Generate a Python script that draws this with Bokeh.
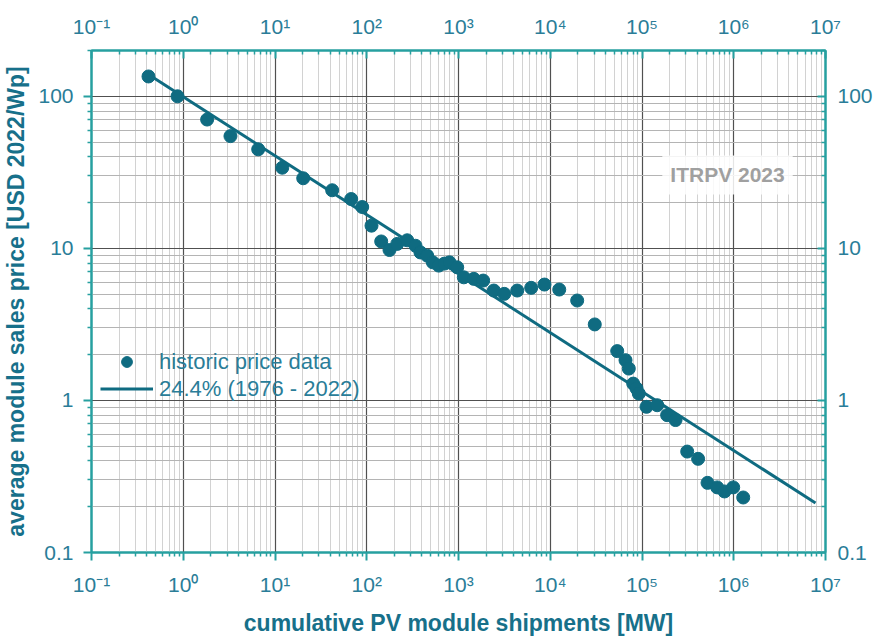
from bokeh.plotting import figure
from bokeh.models import (LogAxis, FixedTicker, Legend, LegendItem, Label, Range1d)
from bokeh.embed import file_html
from bokeh.resources import INLINE

# ---- data ----
shipments_mw = [0.418, 0.866, 1.82, 3.27, 6.56, 12.0, 20.3, 42.0, 67.7, 89.2,
                112.7, 143.7, 177, 215, 276, 340, 385, 456, 525, 610,
                704, 798, 968, 1143, 1468, 1858, 2426, 3155, 4365, 6197,
                8650, 12530, 19660, 30560, 53700, 66100, 71800, 80200, 87100, 92300,
                112000, 146500, 188000, 232000, 311000, 409000, 518000, 660000, 793000, 986000,
                1268000]
price_usd_wp = [135, 100, 70.3, 54.7, 44.8, 33.9, 28.9, 24.1, 21.1, 18.7,
                14.1, 11.1, 9.75, 10.7, 11.3, 10.4, 9.4, 8.95, 8.09, 7.7,
                7.94, 8.09, 7.5, 6.45, 6.3, 6.14, 5.28, 5.02, 5.28, 5.50,
                5.78, 5.36, 4.54, 3.16, 2.11, 1.84, 1.62, 1.29, 1.20, 1.11,
                0.908, 0.93, 0.80, 0.743, 0.461, 0.413, 0.287, 0.268, 0.252, 0.268,
                0.230]
fit_mw = [0.418, 7.78e6]
fit_price = [139, 0.2116]

x_ticks = [0.1, 1, 10, 100, 1000, 1e4, 1e5, 1e6, 1e7]
x_tick_labels = ["10\u207b\u00b9", "10\u2070", "10\u00b9", "10\u00b2", "10\u00b3",
                 "10\u2074", "10\u2075", "10\u2076", "10\u2077"]
y_ticks = [0.1, 1, 10, 100]
y_tick_labels = ["0.1", "1", "10", "100"]

legend_labels = ["historic price data", "24.4% (1976 - 2022)"]
x_title = "cumulative PV module shipments [MW]"
y_title = "average module sales price [USD 2022/Wp]"
stamp = "ITRPV 2023"

# ---- style ----
FONT = "Liberation Sans"
DATA = "#0f6b81"
AXIS = "#26a0a0"
TICKLAB = "#2a7d98"
TITLE = "#17708a"

x_minor = [m * 10.0 ** e for e in range(-1, 7) for m in range(2, 10)]
y_minor = [m * 10.0 ** e for e in range(-1, 3) for m in range(2, 10) if m * 10.0 ** e <= 200]

xticker = FixedTicker(ticks=x_ticks, minor_ticks=x_minor)
yticker = FixedTicker(ticks=y_ticks, minor_ticks=y_minor)
x_over = {float(t): s for t, s in zip(x_ticks, x_tick_labels)}
y_over = {float(t): s for t, s in zip(y_ticks, y_tick_labels)}

p = figure(width=879, height=638, x_axis_type="log", y_axis_type="log",
           x_range=Range1d(0.1, 1e7), y_range=Range1d(0.1, 200),
           output_backend="svg", toolbar_location=None,
           min_border_left=91, min_border_right=54, min_border_top=50, min_border_bottom=85)
p.outline_line_color = AXIS
p.outline_line_width = 2
p.background_fill_color = "white"
p.border_fill_color = "white"


def style(ax, inward, ticker, over, standoff):
    ax.ticker = ticker
    ax.major_label_overrides = over
    ax.axis_line_color = AXIS
    ax.axis_line_width = 2
    ax.major_tick_line_color = AXIS
    ax.major_tick_line_width = 2
    ax.minor_tick_line_color = AXIS
    ax.minor_tick_line_width = 1.5
    if inward:
        ax.major_tick_in, ax.major_tick_out = 8, 0
        ax.minor_tick_in, ax.minor_tick_out = 4, 0
    else:
        ax.major_tick_in, ax.major_tick_out = 0, 8
        ax.minor_tick_in, ax.minor_tick_out = 0, 4
    ax.major_label_text_font = FONT
    ax.major_label_text_font_size = "21px"
    ax.major_label_text_color = TICKLAB
    ax.major_label_standoff = standoff


bottom = p.below[0]
left = p.left[0]
style(bottom, False, xticker, x_over, 12)
style(left, False, yticker, y_over, 10)

bottom.axis_label = x_title
left.axis_label = y_title
for ax, so in ((bottom, 11), (left, 6)):
    ax.axis_label_text_font = FONT
    ax.axis_label_text_font_size = "23px"
    ax.axis_label_text_font_style = "bold"
    ax.axis_label_text_color = TITLE
    ax.axis_label_standoff = so

top = LogAxis()
style(top, True, xticker, x_over, 13)
p.add_layout(top, "above")
right = LogAxis()
style(right, True, yticker, y_over, 12)
p.add_layout(right, "right")

p.xgrid.ticker = xticker
p.ygrid.ticker = yticker
p.xgrid.grid_line_color = "#505050"
p.ygrid.grid_line_color = "#505050"
p.xgrid.grid_line_width = 1.2
p.ygrid.grid_line_width = 1.2
p.xgrid.minor_grid_line_color = "#d2d2d2"
p.ygrid.minor_grid_line_color = "#b4b4b4"

r_fit = p.line(fit_mw, fit_price, line_width=3, color=DATA)
r_pts = p.scatter(shipments_mw, price_usd_wp, size=13, color=DATA, marker="circle")

stamp_label = Label(x=8.55e5, y=30.4, text=stamp, text_align="center", text_baseline="middle",
                    text_font=FONT, text_font_size="21px", text_font_style="bold",
                    text_color="#a0a0a0", background_fill_color="white",
                    background_fill_alpha=0.85, padding=8)
p.add_layout(stamp_label)

legend = Legend(items=[LegendItem(label=legend_labels[0], renderers=[r_pts]),
                       LegendItem(label=legend_labels[1], renderers=[r_fit])],
                location=(9, 150), orientation="vertical",
                glyph_width=53, glyph_height=27, spacing=0, padding=0, margin=0,
                label_standoff=6, label_text_font=FONT, label_text_font_size="22px",
                label_text_color=TICKLAB, background_fill_alpha=0,
                border_line_alpha=0)
p.add_layout(legend, "center")

open("out.html", "w").write(file_html(p, INLINE))
